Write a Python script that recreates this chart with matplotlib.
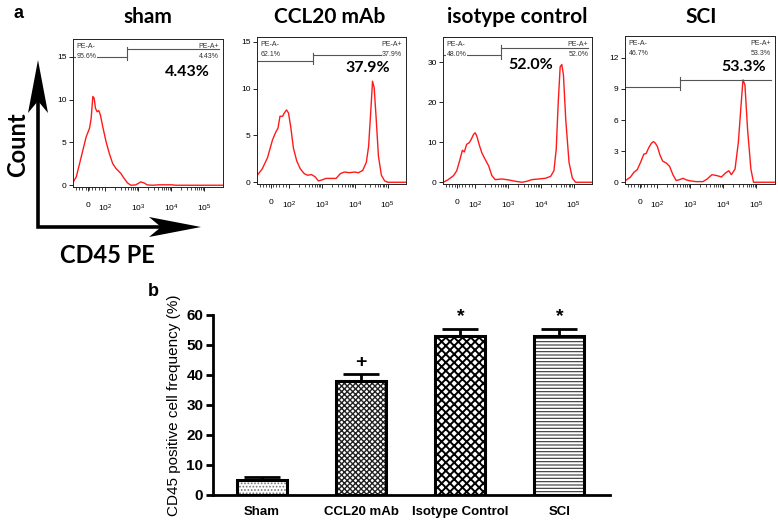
import numpy as np
import matplotlib
matplotlib.use("Agg")
import matplotlib.pyplot as plt
from matplotlib.patches import Polygon
from matplotlib.lines import Line2D

plt.rcParams['font.family'] = ['Liberation Sans', 'DejaVu Sans']

# ---------------- data: flow histograms (x in logicle display decades) -------------
panel_titles = ["sham", "CCL20 mAb", "isotype control", "SCI"]
pos_pct = ["4.43%", "37.9%", "52.0%", "53.3%"]
neg_pct = ["95.6%", "62.1%", "48.0%", "46.7%"]

sham_x = [1.00, 1.12, 1.27, 1.42, 1.52, 1.57, 1.62, 1.66, 1.70, 1.75, 1.80, 1.85, 1.92, 2.02,
          2.12, 2.22, 2.32, 2.47, 2.57, 2.67, 2.77, 2.92, 3.07, 3.17, 3.27, 3.42, 3.62, 4.02,
          4.12, 5.55]
sham_y = [0.2, 0.98, 3.33, 5.68, 6.66, 7.83, 10.38, 10.18, 9.0, 8.6, 8.73, 8.2, 6.85, 5.1,
          3.7, 2.55, 1.96, 1.37, 0.78, 0.27, 0.0, 0.04, 0.39, 0.27, 0.04, 0.0, 0.05, 0.05,
          0.0, 0.0]

ccl_x = [1.03, 1.18, 1.34, 1.49, 1.59, 1.66, 1.72, 1.80, 1.85, 1.92, 1.98, 2.05, 2.13, 2.23,
         2.34, 2.46, 2.56, 2.68, 2.79, 2.89, 2.99, 3.12, 3.43, 3.56, 3.68, 3.84, 3.99, 4.11,
         4.24, 4.35, 4.42, 4.48, 4.54, 4.59, 4.65, 4.72, 4.81, 4.91, 5.01, 5.55]
ccl_y = [0.75, 1.43, 2.62, 4.49, 5.34, 5.78, 7.04, 7.04, 7.38, 7.72, 7.38, 5.85, 3.64, 2.28,
         1.43, 0.92, 0.75, 0.82, 0.58, 0.14, 0.24, 0.41, 0.41, 0.92, 1.09, 1.02, 1.09, 1.02,
         1.26, 2.11, 3.81, 7.21, 10.78, 10.1, 6.87, 2.79, 0.75, 0.14, 0.0, 0.0]

iso_x = [1.03, 1.18, 1.34, 1.44, 1.54, 1.61, 1.67, 1.74, 1.82, 1.88, 1.95, 2.00, 2.05, 2.12,
         2.20, 2.31, 2.41, 2.51, 2.61, 2.82, 3.02, 3.22, 3.43, 3.58, 3.73, 3.94, 4.14, 4.30,
         4.40, 4.47, 4.53, 4.59, 4.64, 4.69, 4.76, 4.86, 4.96, 5.06, 5.55]
iso_y = [0.0, 0.66, 1.65, 2.89, 5.77, 8.0, 7.58, 9.48, 9.89, 10.72, 11.95, 12.37, 11.54, 9.48,
         7.42, 5.61, 4.12, 1.65, 0.66, 0.82, 0.58, 0.25, 0.0, 0.25, 0.66, 0.82, 0.99, 1.48,
         2.89, 8.24, 19.79, 28.85, 29.43, 26.79, 15.66, 4.95, 1.07, 0.0, 0.0]

sci_x = [1.03, 1.18, 1.29, 1.39, 1.49, 1.59, 1.66, 1.74, 1.82, 1.88, 1.94, 2.00, 2.08, 2.16,
         2.27, 2.37, 2.47, 2.57, 2.67, 2.78, 2.88, 3.00, 3.17, 3.38, 3.51, 3.65, 3.80, 3.94,
         4.06, 4.16, 4.24, 4.35, 4.45, 4.53, 4.59, 4.65, 4.73, 4.83, 4.91, 5.55]
sci_y = [0.16, 0.48, 0.96, 1.21, 1.91, 2.71, 2.77, 3.34, 3.76, 3.92, 3.76, 3.44, 2.61, 2.04,
         1.85, 1.53, 0.73, 0.16, 0.25, 0.38, 0.22, 0.13, 0.06, 0.06, 0.32, 0.73, 0.64, 0.51,
         0.89, 1.11, 0.73, 1.27, 3.82, 7.32, 9.87, 9.39, 5.1, 1.27, 0.0, 0.0]

hist_x = [sham_x, ccl_x, iso_x, sci_x]
hist_y = [sham_y, ccl_y, iso_y, sci_y]

y_ticks = [[0, 5, 10, 15], [0, 5, 10, 15], [0, 10, 20, 30], [0, 3, 6, 9, 12]]
y_tops = [17.1, 15.5, 36.3, 14.1]

# gate: boundary position, left level, right level, tick lower, tick upper
gate_bound = [2.66, 2.74, 2.79, 2.68]
gate_left_y = [15.0, 12.9, 31.9, 9.17]
gate_right_y = [15.9, 13.6, 33.6, 9.87]
gate_tick_lo = [14.7, 12.58, 30.9, 8.85]
gate_tick_hi = [16.2, 13.84, 34.2, 10.19]

x_tick_pos = [1.46, 2, 3, 4, 5]
x_tick_lab = ["0", r"$\mathregular{10^2}$", r"$\mathregular{10^3}$",
              r"$\mathregular{10^4}$", r"$\mathregular{10^5}$"]

# ---------------- data: bar chart -------------------
bar_cats = ["Sham", "CCL20 mAb", "Isotype Control", "SCI"]
bar_vals = [4.9, 38.0, 53.1, 53.1]
bar_errs = [1.1, 2.3, 2.2, 2.2]
bar_marks = ["", "+", "*", "*"]

W, H = 778, 524
fig = plt.figure(figsize=(W / 100, H / 100), dpi=100)

def fbox(l, t, r, b):
    return [l / W, 1 - b / H, (r - l) / W, (b - t) / H]

hist_boxes = [(73, 39, 223, 187), (257, 37, 406, 184), (443, 37, 592, 184), (625, 36, 775, 184)]
title_cx = [148, 330, 517, 701]
big_pos = [(0.76, 0.777), (0.745, 0.79), (0.59, 0.81), (0.793, 0.79)]

minor = [1.1, 1.2, 1.3, 1.4, 1.5, 1.6, 1.7, 1.8, 1.9]
for n in (2, 3, 4):
    for k in range(2, 10):
        minor.append(n + np.log10(k))

for i in range(4):
    ax = fig.add_axes(fbox(*hist_boxes[i]))
    ax.plot(hist_x[i], hist_y[i], color='#ff1a1a', lw=1.0)
    ax.set_xlim(1.02, 5.56)
    ax.set_ylim(-0.012 * y_tops[i], y_tops[i])
    ax.set_yticks(y_ticks[i])
    ax.set_yticklabels([str(v) for v in y_ticks[i]], fontsize=6)
    ax.set_xticks(x_tick_pos)
    ax.set_xticklabels(x_tick_lab, fontsize=6)
    ax.set_xticks(minor, minor=True)
    ax.tick_params(axis='x', which='major', length=3, width=0.6, pad=8)
    ax.tick_params(axis='x', which='minor', length=2, width=0.5)
    ax.tick_params(axis='y', length=3, width=0.6, pad=1.5)
    for s in ax.spines.values():
        s.set_linewidth(0.7)
        s.set_color('#222222')
    # gate
    b = gate_bound[i]
    gc = '#555555'
    ax.plot([1.02, b], [gate_left_y[i]] * 2, color=gc, lw=0.8)
    ax.plot([b, 5.45], [gate_right_y[i]] * 2, color=gc, lw=0.8)
    ax.plot([b, b], [gate_tick_lo[i], gate_tick_hi[i]], color=gc, lw=0.8)
    bb = dict(facecolor='white', edgecolor='none', pad=0.3)
    ax.text(0.025, 0.975, "PE-A-", transform=ax.transAxes, fontsize=5, va='top', ha='left', color='#333333')
    ax.text(0.025, 0.905, neg_pct[i], transform=ax.transAxes, fontsize=5, va='top', ha='left',
            color='#333333', bbox=bb)
    ax.text(0.975, 0.975, "PE-A+", transform=ax.transAxes, fontsize=5, va='top', ha='right', color='#333333')
    ax.text(0.975, 0.905, pos_pct[i], transform=ax.transAxes, fontsize=5, va='top', ha='right',
            color='#333333', bbox=bb)
    ax.text(big_pos[i][0], big_pos[i][1], pos_pct[i], transform=ax.transAxes, fontsize=11.5,
            fontweight='bold', family=['Lato', 'DejaVu Sans'], ha='center', va='center')
    fig.text(title_cx[i] / W, 1 - 17 / H, panel_titles[i], fontsize=15, fontweight='bold',
             family=['Lato', 'DejaVu Sans'], ha='center', va='center')

# overlay for axis arrows and panel letters
ov = fig.add_axes([0, 0, 1, 1], zorder=-1)
ov.set_xlim(0, W)
ov.set_ylim(H, 0)
ov.axis('off')
ov.add_line(Line2D([38, 38, 165], [100, 227, 227], color='black', lw=2.6,
                   solid_joinstyle='miter', solid_capstyle='butt'))
ov.add_patch(Polygon([(38, 60), (48, 113), (38, 101), (28, 113)], closed=True, color='black', lw=0))
ov.add_patch(Polygon([(201, 227), (149, 217), (161, 227), (149, 237)], closed=True, color='black', lw=0))
fig.text(18 / W, 1 - 145 / H, "Count", rotation=90, fontsize=17, fontweight='bold',
         family=['Lato', 'DejaVu Sans'], ha='center', va='center')
fig.text(107 / W, 1 - 256 / H, "CD45 PE", fontsize=17, fontweight='bold',
         family=['Lato', 'DejaVu Sans'], ha='center', va='center')
fig.text(19 / W, 1 - 14 / H, "a", fontsize=13, fontweight='bold', ha='center', va='center')
fig.text(153 / W, 1 - 291 / H, "b", fontsize=13, fontweight='bold', ha='center', va='center')

# ---------------- bar chart -------------------
bx = fig.add_axes(fbox(213, 315, 610, 495))
xs = np.arange(len(bar_cats))
hatches = ['.....', 'xxxxxx', 'xxxx', '-----']
hcols = ['#777777', '#222222', '#000000', '#333333']
hlws = [0.8, 1.0, 1.4, 0.8]
for x, v, h, hc, hl in zip(xs, bar_vals, hatches, hcols, hlws):
    with plt.rc_context({'hatch.linewidth': hl}):
        bx.bar(x, v, width=0.505, color='white', edgecolor=hc, hatch=h, lw=0, zorder=2)
bx.bar(xs, bar_vals, width=0.505, fill=False, edgecolor='black', lw=2.2, zorder=3)
bx.errorbar(xs, bar_vals, yerr=[np.zeros(len(xs)), bar_errs], fmt='none', ecolor='black',
            elinewidth=2, capsize=13, capthick=2, zorder=1)
for x, v, e, m in zip(xs, bar_vals, bar_errs, bar_marks):
    if m:
        bx.text(x, v + e + 1.2, m, ha='center', va='bottom', fontsize=14, fontweight='bold')
bx.set_xlim(-0.495, 3.51)
bx.set_ylim(0, 60)
bx.set_yticks(range(0, 61, 10))
bx.set_yticklabels([str(v) for v in range(0, 61, 10)], fontsize=11, fontweight='bold')
bx.set_xticks(xs)
bx.set_xticklabels(bar_cats, fontsize=9.5, fontweight='bold')
bx.tick_params(axis='x', length=0, pad=8)
bx.tick_params(axis='y', length=5, width=2, pad=2)
bx.spines['top'].set_visible(False)
bx.spines['right'].set_visible(False)
bx.spines['left'].set_linewidth(2)
bx.spines['bottom'].set_linewidth(2)
bx.set_ylabel("CD45 positive cell frequency (%)", fontsize=11, labelpad=4)
bx.patch.set_alpha(0)

fig.savefig("out.png", dpi=100)
